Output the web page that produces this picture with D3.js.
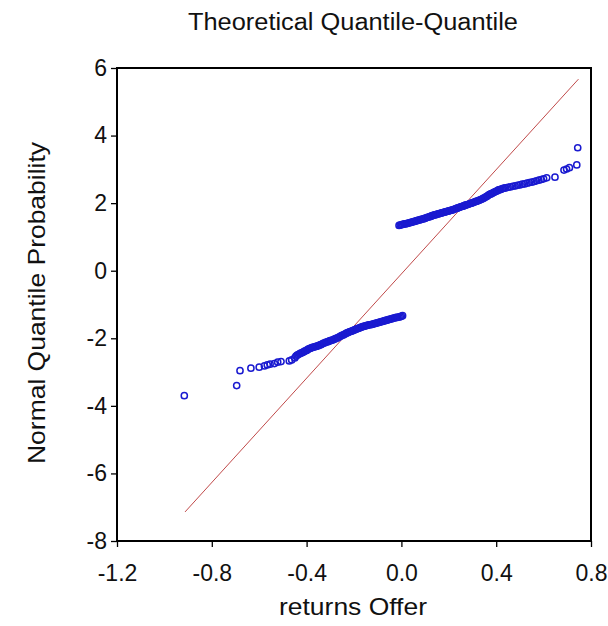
<!DOCTYPE html>
<html>
<head>
<meta charset="utf-8">
<script src="https://cdn.jsdelivr.net/npm/d3@7"></script>
<style>
  html, body { margin: 0; padding: 0; background: #fff; }
  svg { display: block; }
  text { font-family: "Liberation Sans", Arial, sans-serif; fill: #111; }
</style>
</head>
<body>
<div id="chart"></div>
<script>
// ---- data ----
const titleText = "Theoretical Quantile-Quantile";
const xLabelText = "returns Offer";
const yLabelText = "Normal Quantile Probability";

const xTickValues = [-1.2, -0.8, -0.4, 0.0, 0.4, 0.8];
const yTickValues = [6, 4, 2, 0, -2, -4, -6, -8];

// lower cluster (returns, theoretical quantile)
const lowerX = [-0.916, -0.695, -0.681, -0.635, -0.600, -0.578, -0.566, -0.554, -0.536, -0.522, -0.508, -0.473, -0.463,
  -0.45, -0.44, -0.43, -0.42, -0.41, -0.40, -0.39, -0.38, -0.37, -0.36, -0.35, -0.34, -0.33, -0.32, -0.31, -0.30,
  -0.29, -0.28, -0.27, -0.26, -0.25, -0.24, -0.23, -0.22, -0.21, -0.20, -0.19, -0.18, -0.17, -0.16, -0.15, -0.14,
  -0.13, -0.12, -0.11, -0.10, -0.09, -0.08, -0.07, -0.06, -0.05, -0.04, -0.03, -0.02, -0.01, 0.00, 0.005,
  -0.445, -0.435, -0.425, -0.415, -0.405, -0.395, -0.385, -0.375, -0.365, -0.355, -0.345, -0.335, -0.325, -0.315,
  -0.305, -0.295, -0.285, -0.275, -0.265, -0.255, -0.245, -0.235, -0.225, -0.215, -0.205, -0.195, -0.185, -0.175,
  -0.165, -0.155, -0.145, -0.135, -0.125, -0.115, -0.105, -0.095, -0.085, -0.075, -0.065, -0.055, -0.045, -0.035,
  -0.025, -0.015, -0.005];
const lowerY = [-3.70, -3.40, -2.96, -2.885, -2.855, -2.817, -2.787, -2.766, -2.749, -2.707, -2.689, -2.669, -2.64,
  -2.58, -2.50, -2.46, -2.43, -2.39, -2.36, -2.31, -2.28, -2.26, -2.24, -2.22, -2.19, -2.15, -2.12, -2.10, -2.07,
  -2.05, -2.02, -1.99, -1.95, -1.91, -1.88, -1.84, -1.81, -1.79, -1.76, -1.73, -1.70, -1.67, -1.65, -1.63, -1.61,
  -1.60, -1.58, -1.56, -1.54, -1.52, -1.50, -1.48, -1.46, -1.44, -1.42, -1.40, -1.38, -1.37, -1.35, -1.33,
  -2.53, -2.48, -2.44, -2.41, -2.37, -2.33, -2.30, -2.27, -2.25, -2.23, -2.20, -2.17, -2.14, -2.11,
  -2.08, -2.06, -2.03, -2.00, -1.97, -1.93, -1.90, -1.86, -1.83, -1.80, -1.77, -1.74, -1.71, -1.69,
  -1.66, -1.64, -1.62, -1.60, -1.59, -1.57, -1.55, -1.53, -1.51, -1.49, -1.47, -1.45, -1.43, -1.41,
  -1.39, -1.38, -1.36];

// upper cluster
const upperX = [-0.01, 0.00, 0.01, 0.02, 0.03, 0.04, 0.05, 0.06, 0.07, 0.08, 0.09, 0.10, 0.11, 0.12, 0.13, 0.14,
  0.15, 0.16, 0.17, 0.18, 0.19, 0.20, 0.21, 0.22, 0.23, 0.24, 0.25, 0.26, 0.27, 0.28, 0.29, 0.30, 0.31, 0.32, 0.33,
  0.34, 0.35, 0.36, 0.37, 0.38, 0.39, 0.40, 0.41, 0.42, 0.43, 0.44, 0.45, 0.46, 0.47, 0.48, 0.49, 0.50, 0.51, 0.52,
  0.53, 0.54, 0.55, 0.56, 0.57, 0.58, 0.59, 0.60, 0.613, 0.648, 0.686, 0.697, 0.709, 0.740, 0.744,
  -0.005, 0.005, 0.015, 0.025, 0.035, 0.045, 0.055, 0.065, 0.075, 0.085, 0.095, 0.105, 0.115, 0.125, 0.135,
  0.145, 0.155, 0.165, 0.175, 0.185, 0.195, 0.205, 0.215, 0.225, 0.235, 0.245, 0.255, 0.265, 0.275, 0.285,
  0.295, 0.305, 0.315, 0.325, 0.335, 0.345, 0.355, 0.365, 0.375, 0.385, 0.395, 0.405, 0.415, 0.425, 0.435];
const upperY = [1.34, 1.36, 1.38, 1.39, 1.41, 1.43, 1.45, 1.47, 1.49, 1.51, 1.53, 1.55, 1.58, 1.60, 1.63, 1.65,
  1.67, 1.69, 1.71, 1.73, 1.75, 1.77, 1.79, 1.81, 1.84, 1.86, 1.89, 1.91, 1.94, 1.96, 1.99, 2.01, 2.04, 2.06, 2.09,
  2.12, 2.16, 2.20, 2.25, 2.28, 2.32, 2.35, 2.39, 2.41, 2.44, 2.45, 2.47, 2.48, 2.50, 2.51, 2.53, 2.54, 2.56, 2.57,
  2.59, 2.61, 2.62, 2.64, 2.66, 2.68, 2.70, 2.72, 2.75, 2.77, 2.98, 3.01, 3.05, 3.13, 3.64,
  1.35, 1.37, 1.385, 1.40, 1.42, 1.44, 1.46, 1.48, 1.50, 1.52, 1.54, 1.565, 1.59, 1.615, 1.64,
  1.66, 1.68, 1.70, 1.72, 1.74, 1.76, 1.78, 1.80, 1.825, 1.85, 1.875, 1.90, 1.925, 1.95, 1.975,
  2.00, 2.025, 2.05, 2.075, 2.105, 2.14, 2.18, 2.225, 2.265, 2.30, 2.335, 2.37, 2.40, 2.425, 2.445];

// theoretical reference line endpoints
const refLineX = [-0.913, 0.747];
const refLineY = [-7.14, 5.67];

// ---- layout ----
const W = 608, H = 626;
const plot = { left: 117, right: 591, top: 68, bottom: 541 };

const svg = d3.select("#chart").append("svg").attr("width", W).attr("height", H);

const x = d3.scaleLinear().domain([-1.2, 0.8]).range([plot.left, plot.right]);
const y = d3.scaleLinear().domain([-8, 6]).range([plot.bottom, plot.top]);

// axes
const xAxis = d3.axisBottom(x).tickValues(xTickValues).tickSize(6).tickPadding(14)
  .tickFormat(d => d.toFixed(1));
const yAxis = d3.axisLeft(y).tickValues(yTickValues).tickSize(6).tickPadding(4)
  .tickFormat(d => String(d));

const gx = svg.append("g").attr("transform", `translate(0,${plot.bottom})`).call(xAxis);
const gy = svg.append("g").attr("transform", `translate(${plot.left},0)`).call(yAxis);
[gx, gy].forEach(g => {
  g.select(".domain").remove();
  g.selectAll(".tick line").attr("stroke", "#000").attr("stroke-width", 1.3);
  g.selectAll(".tick text").attr("font-size", 23).attr("fill", "#111")
    .style("font-family", "'Liberation Sans', Arial, sans-serif");
});
gx.selectAll(".tick text").attr("dy", "0.85em");

// frame
svg.append("rect")
  .attr("x", plot.left).attr("y", plot.top)
  .attr("width", plot.right - plot.left).attr("height", plot.bottom - plot.top)
  .attr("fill", "none").attr("stroke", "#000").attr("stroke-width", 2);

// reference line
svg.append("line")
  .attr("x1", x(refLineX[0])).attr("y1", y(refLineY[0]))
  .attr("x2", x(refLineX[1])).attr("y2", y(refLineY[1]))
  .attr("stroke", "#c04a4a").attr("stroke-width", 1);

// points
const pts = lowerX.map((v, i) => [v, lowerY[i]]).concat(upperX.map((v, i) => [v, upperY[i]]));
svg.append("g").selectAll("circle").data(pts).join("circle")
  .attr("cx", d => x(d[0])).attr("cy", d => y(d[1])).attr("r", 3.1)
  .attr("fill", "none").attr("stroke", "#1a1ad0").attr("stroke-width", 1.5);

// titles
svg.append("text").attr("x", 353).attr("y", 30).attr("text-anchor", "middle")
  .attr("font-size", 23).attr("textLength", 330).attr("lengthAdjust", "spacingAndGlyphs").text(titleText);
svg.append("text").attr("x", 353).attr("y", 615).attr("text-anchor", "middle")
  .attr("font-size", 24).attr("textLength", 148).attr("lengthAdjust", "spacingAndGlyphs").text(xLabelText);
svg.append("text").attr("transform", `translate(45,303) rotate(-90)`).attr("text-anchor", "middle")
  .attr("font-size", 24).attr("textLength", 322).attr("lengthAdjust", "spacingAndGlyphs").text(yLabelText);
</script>
</body>
</html>
